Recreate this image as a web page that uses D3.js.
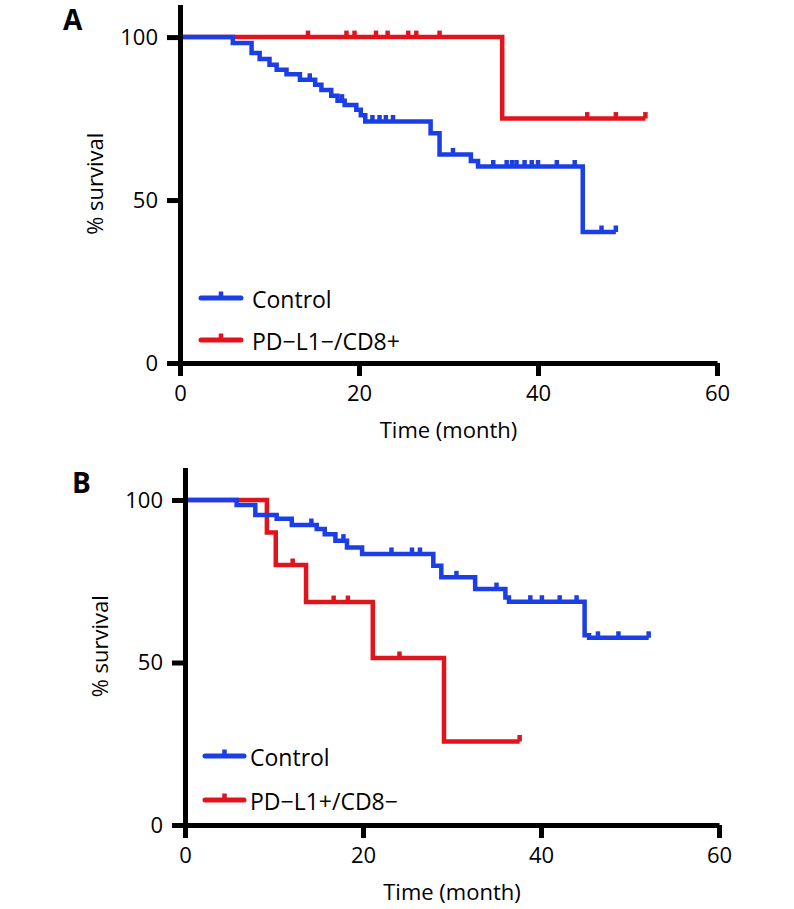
<!DOCTYPE html>
<html><head><meta charset="utf-8">
<script src="https://cdn.jsdelivr.net/npm/d3@7"></script>
<style>
body{margin:0;background:#fff}
text{font-family:"Open Sans","Noto Sans",sans-serif;fill:#000}
</style>
</head><body>
<svg id="chart" width="794" height="909"></svg>
<script>
// ---------- data ----------
const xTicks = [0, 20, 40, 60];
const yTicks = [0, 50, 100];
const panelLabels = ["A", "B"];
const xTitle = "Time (month)";
const yTitle = "% survival";
const seriesNames = ["Control", "PD\u2212L1\u2212/CD8+", "PD\u2212L1+/CD8\u2212"];

// Panel A – Control: [time, survival after event]
const aControlSteps = [[0,100],[5.9,98.2],[8.0,95.1],[8.9,93.3],[10.0,91.5],[10.8,90.0],[11.9,88.6],[13.4,86.9],[15.1,85.4],[15.8,83.8],[16.9,82.0],[17.6,80.5],[18.4,79.2],[19.7,77.7],[20.2,76.0],[20.7,74.1],[28.0,70.5],[29.0,64.0],[32.5,62.0],[33.3,60.3],[45.0,40.2]];
const aControlEnd = 48.7;
const aControlCensor = [14.5,18.1,21.5,22.3,23.0,23.8,30.5,35.0,36.5,37.1,37.6,38.5,39.3,40.0,42.1,44.1,47.1,48.7];
// Panel A – PD-L1-/CD8+
const aRedSteps = [[0,100],[36.0,75.0]];
const aRedEnd = 52.0;
const aRedCensor = [14.3,18.6,19.5,21.9,23.2,25.5,26.4,29.0,45.5,48.7,52.0];

// Panel B – Control
const bControlSteps = [[0,100],[5.8,98.5],[7.9,95.4],[10.3,94.2],[12.0,92.3],[14.8,91.1],[15.7,89.5],[16.9,87.5],[18.2,85.4],[19.9,83.4],[27.9,79.8],[28.8,76.2],[32.6,72.6],[36.0,70.0],[36.4,68.7],[44.9,58.4],[45.4,57.6]];
const bControlEnd = 52.1;
const bControlCensor = [14.2,17.8,23.2,25.5,26.4,30.5,35.0,38.8,40.1,42.1,44.0,46.4,48.7,52.1];
// Panel B – PD-L1+/CD8-
const bRedSteps = [[0,100],[9.2,90.0],[10.2,80.0],[13.6,68.6],[21.1,51.4],[29.1,25.7]];
const bRedEnd = 37.6;
const bRedCensor = [12.1,16.7,18.3,24.1,37.6];

// ---------- styling ----------
const BLUE = "#1b3fe4", RED = "#e1131c";
const svg = d3.select("#chart");

function stepsWithEnd(steps, end){
  return steps.concat([[end, steps[steps.length-1][1]]]);
}
function survAt(steps, t){
  let v = steps[0][1];
  for (const s of steps){ if (s[0] <= t) v = s[1]; }
  return v;
}

function drawPanel(cfg){
  const x = d3.scaleLinear().domain([0,60]).range([cfg.x0, cfg.x1]);
  const y = d3.scaleLinear().domain([0,110]).range([cfg.yb, cfg.yt]);
  const g = svg.append("g");

  const line = d3.line().x(d=>x(d[0])).y(d=>y(d[1])).curve(d3.curveStepAfter);
  const series = [
    {steps: cfg.redSteps, end: cfg.redEnd, censor: cfg.redCensor, color: RED},
    {steps: cfg.blueSteps, end: cfg.blueEnd, censor: cfg.blueCensor, color: BLUE}
  ];
  series.forEach(s=>{
    g.append("path").datum(stepsWithEnd(s.steps, s.end))
      .attr("d", line).attr("fill","none").attr("stroke", s.color)
      .attr("stroke-width", 4.5).attr("stroke-linejoin","miter");
    g.selectAll(null).data(s.censor).enter().append("line")
      .attr("x1", d=>x(d)).attr("x2", d=>x(d))
      .attr("y1", d=>y(survAt(s.steps,d))).attr("y2", d=>y(survAt(s.steps,d))-6.5)
      .attr("stroke", s.color).attr("stroke-width", 4.5);
  });

  // axes
  const xa = g.append("g").attr("transform",`translate(0,${cfg.yb})`)
    .call(d3.axisBottom(x).tickValues(xTicks).tickSize(13).tickSizeOuter(0).tickPadding(9));
  const ya = g.append("g").attr("transform",`translate(${cfg.x0},0)`)
    .call(d3.axisLeft(y).tickValues(yTicks).tickSize(13).tickSizeOuter(0).tickPadding(9));
  [xa, ya].forEach(a=>{
    a.select(".domain").attr("stroke","#000").attr("stroke-width",5);
    a.selectAll(".tick line").attr("stroke","#000").attr("stroke-width",5);
    a.selectAll(".tick text").attr("font-size",22).attr("font-family","'Open Sans',sans-serif").attr("fill","#000");
  });

  // titles
  g.append("text").attr("x", x(30)).attr("y", cfg.yb + 75)
    .attr("text-anchor","middle").attr("font-size",22).text(xTitle);
  g.append("text").attr("transform",`translate(${cfg.x0 - 77},${(cfg.yb+cfg.yt)/2}) rotate(-90)`)
    .attr("text-anchor","middle").attr("font-size",22).text(yTitle);
  g.append("text").attr("x", cfg.labelX).attr("y", cfg.labelY)
    .attr("font-size",28).attr("font-weight","bold").text(cfg.label);

  // legend
  const leg = [
    {name: seriesNames[0], color: BLUE, y: cfg.legY0},
    {name: cfg.redName, color: RED, y: cfg.legY1}
  ];
  leg.forEach(l=>{
    g.append("line").attr("x1",cfg.legX0).attr("x2",cfg.legX1).attr("y1",l.y).attr("y2",l.y)
      .attr("stroke",l.color).attr("stroke-width",5).attr("stroke-linecap","round");
    const mid = (cfg.legX0+cfg.legX1)/2;
    g.append("line").attr("x1",mid).attr("x2",mid).attr("y1",l.y).attr("y2",l.y-6.5)
      .attr("stroke",l.color).attr("stroke-width",4.5);
    g.append("text").attr("x",cfg.legTextX).attr("y",l.y+10).attr("font-size",23).text(l.name);
  });
}

drawPanel({x0:180, x1:717, yb:363, yt:4.5, label:panelLabels[0], labelX:63, labelY:30,
  blueSteps:aControlSteps, blueEnd:aControlEnd, blueCensor:aControlCensor,
  redSteps:aRedSteps, redEnd:aRedEnd, redCensor:aRedCensor, redName:seriesNames[1],
  legX0:201, legX1:241, legTextX:252, legY0:298, legY1:340});

drawPanel({x0:185, x1:719, yb:825, yt:467.5, label:panelLabels[1], labelX:72, labelY:493,
  blueSteps:bControlSteps, blueEnd:bControlEnd, blueCensor:bControlCensor,
  redSteps:bRedSteps, redEnd:bRedEnd, redCensor:bRedCensor, redName:seriesNames[2],
  legX0:205, legX1:244, legTextX:250, legY0:756, legY1:800});
</script>
</body></html>
